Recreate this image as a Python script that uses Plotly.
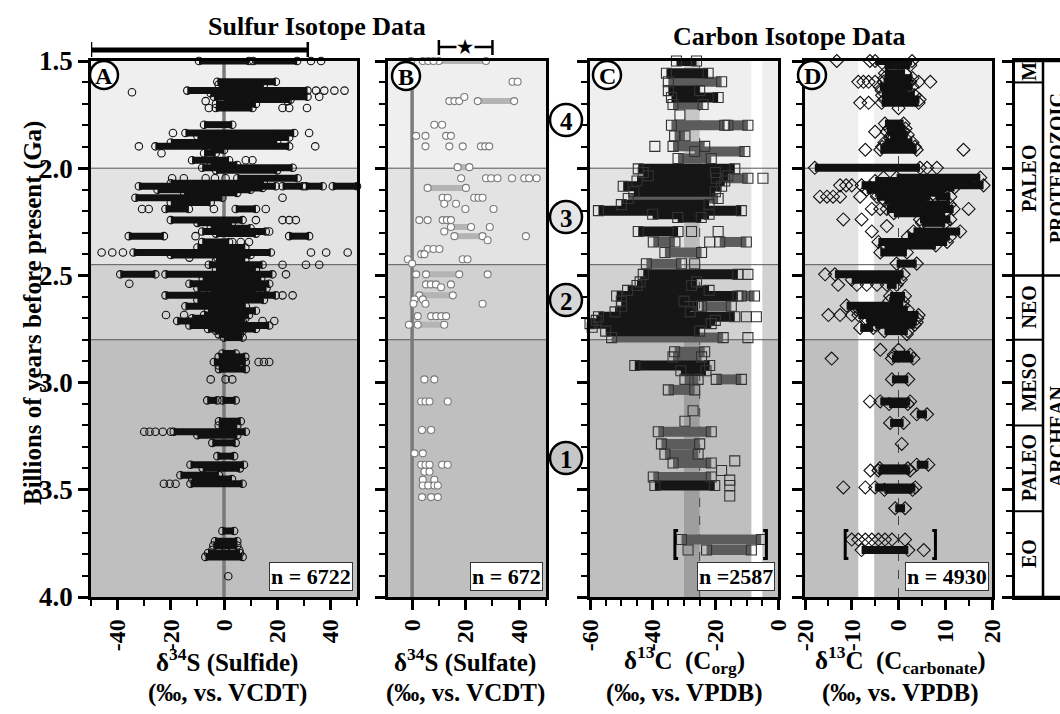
import plotly.graph_objects as go

W, H = 1060, 714
FONT = "Liberation Serif, Times New Roman, serif"

# ---------------- DATA (age in Ga, isotope value in permil) ----------------
# Panel A: d34S sulfide. Dense runs (age, low, high) and single points (age, value)
A_runs = [(1.500, -9.4, 9.4), (1.500, 11.0, 27.5), (1.597, -2.5, 19.5), (1.610, -2.0, 15.0),
          (1.638, -13.8, 31.4), (1.650, -5.0, 28.0), (1.667, -3.8, 31.4), (1.680, 0.0, 25.0),
          (1.700, -3.0, 12.0), (1.719, -3.1, 10.7), (1.797, -7.5, 3.1), (1.836, -14.5, 26.4),
          (1.850, -10.0, 20.0), (1.857, -2.5, 24.5), (1.880, -20.0, 20.0), (1.898, -25.8, 24.5),
          (1.915, -5.0, 0.0), (1.930, -7.5, -3.1), (1.963, -12.0, 1.9), (1.985, -5.0, 5.0),
          (1.998, -8.2, 25.8), (2.010, -3.0, 20.0), (2.047, 5.0, 27.7), (2.070, -20.0, 15.0),
          (2.084, -32.0, 19.5), (2.084, 22.0, 29.6), (2.084, 30.8, 37.1), (2.084, 40.9, 50.0),
          (2.092, -0.6, 14.5), (2.100, -25.0, 10.0), (2.115, -15.0, 5.0), (2.138, -33.3, -0.6),
          (2.160, -20.0, -5.0), (2.190, -22.0, -13.2), (2.190, 4.4, 12.0), (2.242, -20.0, 7.0),
          (2.255, -10.0, 3.0), (2.280, -5.0, 10.0), (2.295, -8.2, 15.7), (2.305, -3.0, 12.0),
          (2.317, -35.8, -22.6), (2.317, 24.5, 32.0), (2.344, -8.2, 1.9), (2.370, -10.0, 8.0),
          (2.393, -34.0, 17.6), (2.405, -20.0, 10.0), (2.417, -2.5, 3.0), (2.430, -3.0, 8.0),
          (2.450, -5.7, 14.5), (2.470, -3.0, 12.0), (2.495, -39.0, -25.8), (2.495, -22.0, 18.2),
          (2.515, -8.0, 14.0), (2.539, -13.0, 17.0), (2.560, -10.0, 16.0), (2.575, -5.0, 12.0),
          (2.593, -22.0, 19.5), (2.615, -10.0, 15.0), (2.644, -14.5, 8.2), (2.665, -6.0, 12.0),
          (2.685, -7.5, 9.4), (2.700, -12.0, 8.0), (2.713, -17.6, 7.0), (2.734, -13.0, 17.0),
          (2.750, -6.0, 12.0), (2.758, -3.1, 7.0), (2.775, -2.0, 6.0), (2.790, 0.0, 7.0),
          (2.864, -0.6, 4.4), (2.880, -2.0, 8.0), (2.904, -3.8, 8.2), (2.920, -2.0, 6.0),
          (2.937, -1.9, 8.2), (3.083, -6.3, -2.5), (3.083, -0.6, 4.4), (3.180, -1.9, 6.3),
          (3.200, -2.0, 5.0), (3.229, -18.9, 8.2), (3.245, -10.0, 5.0), (3.281, -4.4, 4.4),
          (3.343, -2.5, 3.8), (3.383, -12.6, 7.5), (3.400, -8.0, 6.0), (3.432, -16.4, -1.9),
          (3.450, -12.0, 3.0), (3.472, -12.6, 7.0), (3.692, -0.6, 3.8), (3.740, -3.4, 5.0),
          (3.760, -4.0, 5.0), (3.795, -6.0, 6.0), (3.813, -7.0, 7.0)]
A_points = [(1.500, 32.7), (1.500, 36.5), (1.646, -34.6), (1.638, 34.6), (1.638, 37.7),
            (1.638, 41.5), (1.638, 45.3), (1.667, 35.8), (1.687, -6.9), (1.687, 23.9),
            (1.719, -5.7), (1.719, 22.0), (1.719, 24.5), (1.719, 31.2), (1.836, -19.2),
            (1.836, 32.0), (1.898, -32.0), (1.898, 34.3), (1.930, -23.5), (1.963, 8.2),
            (1.963, 10.7), (2.047, -19.5), (2.047, -15.1), (2.047, -6.9), (2.047, -3.4),
            (2.047, 0.6), (2.092, 52.0), (2.138, 22.0), (2.190, -30.8), (2.190, -28.3),
            (2.190, -3.8), (2.190, 15.7), (2.242, 12.0), (2.242, 22.0), (2.242, 24.5),
            (2.242, 27.0), (2.295, 17.0), (2.317, -10.7), (2.344, 3.1), (2.344, 6.3),
            (2.344, 9.4), (2.393, -46.0), (2.393, -42.0), (2.393, -38.0), (2.393, 32.7),
            (2.393, 38.4), (2.393, 46.5), (2.417, -13.0), (2.450, 22.0), (2.450, 30.8),
            (2.450, 35.8), (2.495, 23.3), (2.539, -35.6), (2.593, 22.0), (2.593, 25.8),
            (2.685, -21.8), (2.685, -15.0), (2.713, 14.5), (2.713, 18.9), (2.904, 13.0),
            (2.904, 15.0), (2.904, 17.0), (2.985, -5.0), (2.985, 0.6), (2.985, 3.1),
            (3.229, -30.0), (3.229, -28.0), (3.229, -25.8), (3.229, -23.0), (3.229, -20.0),
            (3.472, -22.6), (3.472, -20.4), (3.472, -18.2), (3.781, -4.4), (3.781, -2.0),
            (3.781, 0.6), (3.781, 3.1), (3.781, 5.7), (3.903, 1.6)]

# Panel B: d34S sulfate
B_runs = [(1.500, 10.0, 27.6), (1.687, 24.5, 38.1), (1.995, 17.0, 21.4), (2.092, 5.8, 20.1),
          (2.274, 14.5, 22.0), (2.317, 15.8, 26.3), (2.495, 5.2, 17.6), (2.593, 2.7, 15.2),
          (2.730, 2.1, 12.0), (3.221, 3.7, 7.1), (3.534, 3.7, 7.1)]
B_points = [(1.500, -0.4), (1.500, 4.0), (1.500, 6.0), (1.500, 8.0), (1.597, 37.5), (1.597, 39.4),
            (1.687, 13.9), (1.687, 15.8), (1.687, 17.6), (1.668, 19.5), (1.797, 8.3), (1.797, 11.2),
            (1.849, 1.5), (1.849, 5.0), (1.849, 12.7), (1.849, 14.5), (1.898, 5.0), (1.898, 13.9),
            (1.898, 18.9), (1.898, 25.7), (1.898, 27.3), (1.898, 28.8), (2.047, 18.3), (2.047, 27.6),
            (2.047, 29.5), (2.047, 31.9), (2.047, 37.3), (2.047, 41.9), (2.047, 43.7), (2.047, 46.5),
            (2.138, 11.4), (2.138, 13.3), (2.138, 23.2), (2.138, 24.8), (2.138, 26.3), (2.166, 12.0),
            (2.166, 16.4), (2.190, 19.9), (2.190, 30.4), (2.242, 2.7), (2.242, 5.8), (2.242, 11.4),
            (2.242, 13.0), (2.242, 14.5), (2.274, 29.0), (2.295, 12.0), (2.317, 42.5), (2.336, 28.2),
            (2.377, 5.8), (2.377, 8.0), (2.377, 10.2), (2.401, 3.4), (2.401, 4.6), (2.425, -1.6),
            (2.425, 18.9), (2.425, 20.7), (2.445, 0.0), (2.495, 1.5), (2.495, 28.2), (2.542, 5.2),
            (2.542, 7.0), (2.542, 8.9), (2.542, 14.5), (2.555, 10.8), (2.612, 0.9), (2.612, 4.0),
            (2.632, 0.5), (2.632, 5.0), (2.632, 26.3), (2.690, 2.1), (2.690, 7.1), (2.690, 9.0),
            (2.690, 10.9), (2.690, 12.7), (2.730, -1.2), (2.985, 4.6), (2.985, 8.3), (3.088, 3.4),
            (3.088, 5.0), (3.088, 6.5), (3.088, 13.3), (3.330, 0.9), (3.330, 4.0), (3.383, 3.4),
            (3.383, 5.0), (3.383, 6.5), (3.383, 11.2), (3.383, 13.3), (3.416, 4.6), (3.416, 6.5),
            (3.453, 4.0), (3.453, 8.3), (3.480, 4.0), (3.480, 6.0), (3.480, 8.3), (3.480, 9.6),
            (3.534, 9.6)]

# Panel C: d13C organic carbon (dense runs, lighter runs, points)
C_runs_dense = [(1.500, -32.4, -26.0), (1.557, -35.6, -22.3), (1.638, -35.0, -25.0),
                (1.670, -34.0, -19.1), (2.003, -44.6, -13.8), (2.020, -43.0, -20.0),
                (2.036, -41.4, -16.0), (2.060, -45.0, -17.0), (2.084, -49.4, -18.0),
                (2.110, -46.0, -20.0), (2.170, -50.0, -22.0), (2.198, -57.3, -11.7),
                (2.215, -40.0, -22.0), (2.230, -32.0, -24.5), (2.295, -44.6, -31.9),
                (2.495, -43.0, -12.8), (2.530, -44.0, -26.0), (2.547, -45.0, -27.6),
                (2.570, -48.0, -22.0), (2.596, -51.5, -12.8), (2.620, -50.0, -30.0),
                (2.644, -49.9, -25.5), (2.670, -52.0, -28.0), (2.693, -57.3, -13.8),
                (2.710, -58.0, -20.0), (2.725, -60.0, -21.3), (2.760, -55.0, -25.0),
                (2.920, -45.7, -21.8), (2.945, -31.0, -23.0), (3.480, -39.3, -20.2)]
C_runs_light = [(1.597, -35.0, -18.0), (1.703, -33.5, -23.9), (1.800, -34.0, -17.0),
                (1.800, -16.0, -9.6), (1.849, -33.0, -29.7), (1.898, -33.5, -23.4),
                (1.922, -26.6, -10.6), (1.955, -31.9, -21.3), (2.047, -19.7, -9.6),
                (2.141, -47.8, -19.1), (2.344, -39.8, -32.9), (2.344, -18.6, -10.1),
                (2.393, -36.1, -24.4), (2.446, -42.0, -30.8), (2.644, -24.4, -14.9),
                (2.596, -11.7, -7.5), (2.790, -53.1, -17.5), (2.856, -33.0, -23.4),
                (2.880, -33.5, -24.4), (2.985, -29.7, -25.5), (2.985, -19.7, -11.7),
                (3.034, -35.0, -26.6), (3.229, -38.2, -21.3), (3.286, -37.2, -25.0),
                (3.334, -36.1, -25.5), (3.375, -33.5, -21.3), (3.440, -39.8, -21.3),
                (3.732, -30.8, -5.3), (3.781, -22.8, -8.5)]
C_points = [(1.752, -31.3), (1.898, -39.3), (2.047, -4.8), (2.295, -27.6), (2.295, -19.1),
            (2.344, -21.8), (2.446, -26.6), (2.495, -9.6), (2.693, -10.1), (2.693, -6.9),
            (2.742, -59.3), (2.790, -9.6), (3.131, -27.1), (3.180, -29.7), (3.365, -13.8),
            (3.410, -18.0), (3.455, -15.4), (3.480, -15.4), (3.529, -15.4), (3.781, -28.7)]

# Panel D: d13C carbonate
D_runs = [(1.500, -5.0, 2.9), (1.520, -3.0, 2.5), (1.557, -2.9, 1.4), (1.580, -3.0, 3.0),
          (1.597, -3.2, 2.5), (1.620, -4.0, 3.0), (1.638, -3.6, 2.1), (1.660, -3.5, 3.5),
          (1.680, -3.0, 4.5), (1.695, -3.6, 4.3), (1.792, -2.9, 1.1), (1.815, -2.0, 1.5),
          (1.830, -2.5, 1.1), (1.845, -1.5, 2.0), (1.860, -1.8, 1.4), (1.880, -3.0, 3.0),
          (1.900, -3.5, 3.5), (1.914, -3.9, 3.9), (1.998, -17.9, 4.6), (2.044, -0.4, 17.5),
          (2.060, -5.0, 16.0), (2.080, -7.9, 18.2), (2.090, -6.0, 12.0), (2.100, -6.8, 10.0),
          (2.115, -5.0, 9.0), (2.133, -4.6, 6.8), (2.133, 7.9, 11.1), (2.150, -3.0, 6.0),
          (2.170, -2.0, 11.0), (2.190, -2.5, 11.8), (2.210, -1.0, 10.0), (2.239, 4.6, 11.1),
          (2.255, 5.0, 10.0), (2.295, 3.2, 13.2), (2.320, 2.0, 11.0), (2.344, -4.3, 10.4),
          (2.360, -3.0, 8.0), (2.393, -3.9, 1.8), (2.445, -0.4, 3.9), (2.495, -13.6, 1.1),
          (2.520, -10.0, 0.5), (2.544, -2.5, -0.4), (2.596, -1.8, 1.4), (2.620, -2.0, 1.0),
          (2.641, -11.1, 1.0), (2.660, -9.0, 2.0), (2.685, -8.6, 4.3), (2.700, -7.0, 4.0),
          (2.718, -6.8, 3.9), (2.730, -5.0, 3.5), (2.745, -8.2, -5.4), (2.760, -3.0, 2.0),
          (2.870, -1.0, 2.5), (2.888, -1.4, 3.2), (2.985, -1.4, 2.1), (3.088, -3.9, 2.5),
          (3.100, -2.0, 2.0), (3.148, 3.9, 6.1), (3.188, -1.8, 1.1), (3.383, 3.9, 6.4),
          (3.400, -4.0, 2.0), (3.410, -4.3, 2.5), (3.489, -5.0, 3.6), (3.500, -3.0, 3.0),
          (3.586, -0.7, 1.4), (3.781, -7.9, 2.1)]
D_points = [(1.500, -13.2), (1.500, -6.1), (1.597, -18.9), (1.597, -8.6), (1.597, -7.5),
            (1.597, -6.4), (1.597, -5.0), (1.597, 4.3), (1.597, 6.8), (1.695, -8.2), (1.695, -6.4),
            (1.720, 0.0), (1.830, -5.0), (1.914, -7.1), (1.914, 13.9), (1.998, 6.1), (1.998, 8.2),
            (2.044, -3.2), (2.080, -12.5), (2.080, -11.2), (2.080, -10.0), (2.133, -16.8),
            (2.133, -15.3), (2.133, -14.0), (2.133, -12.5), (2.133, -8.2), (2.190, -5.7),
            (2.190, -3.9), (2.190, 15.0), (2.239, -11.8), (2.239, -7.9), (2.270, -2.5),
            (2.295, -5.7), (2.495, -15.7), (2.544, -12.9), (2.544, -8.9), (2.544, -6.8),
            (2.544, -4.6), (2.685, -15.0), (2.685, -12.5), (2.685, -10.0), (2.774, 1.8),
            (2.847, -3.9), (2.847, 0.0), (2.888, -14.3), (3.088, -6.1), (3.286, 0.7),
            (3.410, -6.0), (3.489, -11.8), (3.489, -7.1), (3.732, -10.0), (3.732, -8.6),
            (3.732, -7.1), (3.732, -5.7), (3.732, -4.3), (3.732, -2.9), (3.732, -1.4),
            (3.732, 1.4), (3.781, 5.4)]

sample_counts = ["6722", "672", "2587", "4930"]
zone_bounds = [1.5, 2.0, 2.45, 2.8, 4.0]
sulfide_range = [-50, 31.5]
sulfate_range = [10, 30, 20]          # low, high, star
corg_band = [-30, -25]
white_band_C = [-8.5, -5.0]
white_band_D = [-8.6, -5.2]
bracket_ages = [3.69, 3.82]
bracket_C = [-32.9, -3.7]
bracket_D = [-11.4, 7.9]
subera_bounds = [1.5, 1.6, 2.5, 2.8, 3.2, 3.6, 4.0]
subera_names = ["M", "PALEO", "NEO", "MESO", "PALEO", "EO"]
era_names = ["PROTEROZOIC", "ARCHEAN"]
era_mid = [2.0, 3.25]
circle_nums = ["4", "3", "2", "1"]

# ---------------- FIGURE ----------------
fig = go.Figure()
ydom = [1 - 597 / H, 1 - 61 / H]
panels = [("x", "y", [91, 357], [-50, 50]), ("x2", "y2", [388, 546], [-9, 50]),
          ("x3", "y3", [590, 778], [-60, 0]), ("x4", "y4", [805, 992], [-20, 20])]


def runs_xy(runs):
    xs, ys = [], []
    for a, lo, hi in runs:
        xs += [lo, hi, None]
        ys += [a, a, None]
    return xs, ys


def ends_xy(runs, pts):
    xs = [r[1] for r in runs] + [r[2] for r in runs] + [p[1] for p in pts]
    ys = [r[0] for r in runs] + [r[0] for r in runs] + [p[0] for p in pts]
    return xs, ys


def add_runs(runs, xa, ya, color, width):
    xs, ys = runs_xy(runs)
    fig.add_trace(go.Scatter(x=xs, y=ys, xaxis=xa, yaxis=ya, mode="lines",
                             line=dict(color=color, width=width), hoverinfo="skip",
                             showlegend=False))


def add_marks(runs, pts, xa, ya, symbol, size, fill, edge):
    xs, ys = ends_xy(runs, pts)
    fig.add_trace(go.Scatter(x=xs, y=ys, xaxis=xa, yaxis=ya, mode="markers",
                             marker=dict(symbol=symbol, size=size, color=fill,
                                         line=dict(color=edge, width=1.1)),
                             cliponaxis=False, showlegend=False))


add_runs(A_runs, "x", "y", "#111", 7)
add_marks(A_runs, A_points, "x", "y", "circle-open", 7.5, "#111", "#111")
add_runs(B_runs, "x2", "y2", "#b4b4b4", 6)
add_marks(B_runs, B_points, "x2", "y2", "circle", 7, "white", "#7a7a7a")
add_runs(C_runs_light, "x3", "y3", "#5c5c5c", 10)
add_runs(C_runs_dense, "x3", "y3", "#161616", 10)
add_marks(C_runs_dense + C_runs_light, C_points, "x3", "y3", "square-open", 10, "#333", "#333")
add_runs(D_runs, "x4", "y4", "#111", 8)
add_marks(D_runs, D_points, "x4", "y4", "diamond-open", 10, "#111", "#111")

tick_font = dict(family=FONT, size=24, color="black", weight="bold")
xticks = [([-40, -20, 0, 20, 40], 10), ([0, 20, 40], 10), ([-60, -40, -20, 0], 5),
          ([-20, -10, 0, 10, 20], 5)]
layout = dict(width=W, height=H, margin=dict(l=0, r=0, t=0, b=0, pad=0, autoexpand=False),
              paper_bgcolor="white", plot_bgcolor="rgba(0,0,0,0)",
              font=dict(family=FONT, size=22, color="black", weight="bold"), showlegend=False)

yvals = [1.5, 2.0, 2.5, 3.0, 3.5, 4.0]
for i, (xa, ya, px, rng) in enumerate(panels):
    xkey = "xaxis" if i == 0 else f"xaxis{i + 1}"
    ykey = "yaxis" if i == 0 else f"yaxis{i + 1}"
    tv, mdt = xticks[i]
    layout[xkey] = dict(domain=[px[0] / W, px[1] / W], range=rng, anchor=ya, automargin=False,
                        showline=True, mirror=True, linewidth=2.5, linecolor="black",
                        ticks="outside", ticklen=10, tickwidth=2.5, tickcolor="black",
                        tickmode="array", tickvals=tv, ticktext=[str(v) for v in tv],
                        tickangle=-90, tickfont=tick_font, showgrid=False, zeroline=False,
                        minor=dict(ticks="outside", tick0=0, dtick=mdt, ticklen=6,
                                   tickwidth=2, tickcolor="black"))
    layout[ykey] = dict(domain=ydom, range=[4.0, 1.5], anchor=xa, automargin=False,
                        showline=True, mirror=True, linewidth=2.5, linecolor="black",
                        ticks="outside", ticklen=10, tickwidth=2.5, tickcolor="black",
                        tickmode="array", tickvals=yvals, ticktext=[f"{v:.1f}" for v in yvals],
                        showticklabels=(i == 0), tickfont=dict(family=FONT, size=27, color="black", weight="bold"),
                        showgrid=False, zeroline=False,
                        minor=dict(ticks="outside", tick0=1.5, dtick=0.1, ticklen=6,
                                   tickwidth=2, tickcolor="black"))

# era column axes
layout["xaxis5"] = dict(domain=[1015 / W, 1.0], range=[0, 1], anchor="y5", automargin=False,
                        showline=True, mirror=True, linewidth=2.5, linecolor="black",
                        showticklabels=False, ticks="", showgrid=False, zeroline=False)
layout["yaxis5"] = dict(domain=ydom, range=[4.0, 1.5], anchor="x5", showline=True, automargin=False,
                        linewidth=2.5, linecolor="black", ticks="outside", ticklen=10,
                        tickwidth=2.5, tickcolor="black", tickvals=yvals, showticklabels=False,
                        showgrid=False, zeroline=False,
                        minor=dict(ticks="outside", tick0=1.5, dtick=0.1, ticklen=6,
                                   tickwidth=2, tickcolor="black"))

shapes = []
zone_colors = ["#efefef", "#e3e3e3", "#d1d1d1", "#bfbfbf"]
for i, (xa, ya, px, rng) in enumerate(panels):
    for j in range(4):
        shapes.append(dict(type="rect", xref=f"{xa} domain", yref=ya, x0=0, x1=1,
                           y0=zone_bounds[j], y1=zone_bounds[j + 1], fillcolor=zone_colors[j],
                           line=dict(width=0), layer="below"))
    if i == 2:
        shapes.append(dict(type="rect", xref=xa, yref=f"{ya} domain", x0=corg_band[0], x1=corg_band[1],
                           y0=0, y1=1, fillcolor="rgba(0,0,0,0.17)", line=dict(width=0), layer="below"))
        shapes.append(dict(type="rect", xref=xa, yref=f"{ya} domain", x0=white_band_C[0], x1=white_band_C[1],
                           y0=0, y1=1, fillcolor="white", line=dict(width=0), layer="below"))
        shapes.append(dict(type="line", xref=xa, yref=f"{ya} domain", x0=corg_band[1], x1=corg_band[1],
                           y0=0, y1=1, line=dict(color="#444", width=1, dash="dash"), layer="below"))
    if i == 3:
        shapes.append(dict(type="rect", xref=xa, yref=f"{ya} domain", x0=white_band_D[0], x1=white_band_D[1],
                           y0=0, y1=1, fillcolor="white", line=dict(width=0), layer="below"))
        shapes.append(dict(type="line", xref=xa, yref=f"{ya} domain", x0=0, x1=0,
                           y0=0, y1=1, line=dict(color="#444", width=1, dash="dash"), layer="below"))
    for b in zone_bounds[1:4]:
        shapes.append(dict(type="line", xref=f"{xa} domain", yref=ya, x0=0, x1=1, y0=b, y1=b,
                           line=dict(color="#555", width=1), layer="below"))
    if i in (0, 1):
        shapes.append(dict(type="line", xref=xa, yref=f"{ya} domain", x0=0, x1=0, y0=0, y1=1,
                           line=dict(color="#7a7a7a", width=3.5), layer="below"))

# brackets around the oldest samples in C and D
for xa, ya, (bl, br) in (("x3", "y3", bracket_C), ("x4", "y4", bracket_D)):
    a0, a1 = bracket_ages
    w = (br - bl) * 0.035
    shapes.append(dict(type="path", xref=xa, yref=ya, line=dict(color="black", width=3),
                       path=f"M {bl + w},{a0} L {bl},{a0} L {bl},{a1} L {bl + w},{a1}"))
    shapes.append(dict(type="path", xref=xa, yref=ya, line=dict(color="black", width=3),
                       path=f"M {br - w},{a0} L {br},{a0} L {br},{a1} L {br - w},{a1}"))

# range bar above A and bracket with star above B
ybar = 1 - 50 / H
shapes.append(dict(type="line", xref="x", yref="paper", x0=sulfide_range[0], x1=sulfide_range[1],
                   y0=ybar, y1=ybar, line=dict(color="black", width=5)))
for xv in sulfide_range:
    shapes.append(dict(type="line", xref="x", yref="paper", x0=xv, x1=xv, y0=1 - 42 / H, y1=1 - 57 / H,
                       line=dict(color="black", width=2.5)))
yb2 = 1 - 47 / H
shapes.append(dict(type="line", xref="x2", yref="paper", x0=sulfate_range[0], x1=sulfate_range[1],
                   y0=yb2, y1=yb2, line=dict(color="black", width=2.5)))
for xv in sulfate_range[:2]:
    shapes.append(dict(type="line", xref="x2", yref="paper", x0=xv, x1=xv, y0=1 - 40 / H, y1=1 - 55 / H,
                       line=dict(color="black", width=2.5)))

# era column lines
div = (1043 - 1015) / 45
for k, b in enumerate(subera_bounds):
    full = b in (1.5, 2.5, 4.0)
    shapes.append(dict(type="line", xref="x5", yref="y5", x0=0, x1=(1 if full else div), y0=b, y1=b,
                       line=dict(color="black", width=2.5 if full else 2)))
shapes.append(dict(type="line", xref="x5", yref="y5", x0=div, x1=div, y0=1.5, y1=4.0,
                   line=dict(color="black", width=2.5)))

# circled panel letters
letter_pos = [(104, 75), (406, 76), (607, 75), (812, 75)]
for cx, cy in letter_pos:
    shapes.append(dict(type="circle", xref="paper", yref="paper", xsizemode="pixel", ysizemode="pixel",
                       xanchor=cx / W, yanchor=1 - cy / H, x0=-14, x1=14, y0=-14, y1=14,
                       fillcolor="white", line=dict(color="black", width=2.5)))
# circled stage numbers
num_pos = [120, 217, 300, 458]
num_fill = ["white", "#e6e6e6", "#d6d6d6", "#c6c6c6"]
for cy, fc in zip(num_pos, num_fill):
    shapes.append(dict(type="circle", xref="paper", yref="paper", xsizemode="pixel", ysizemode="pixel",
                       xanchor=566 / W, yanchor=1 - cy / H, x0=-16, x1=16, y0=-16, y1=16,
                       fillcolor=fc, line=dict(color="black", width=2.5)))

layout["shapes"] = shapes

ann = []


def add_text(text, x, y, size, xref="paper", yref="paper", **kw):
    d = dict(text=text, x=x, y=y, xref=xref, yref=yref, showarrow=False,
             xanchor=kw.pop("xanchor", "center"), yanchor=kw.pop("yanchor", "middle"),
             font=dict(family=FONT, size=size, color="black", weight="bold"))
    d.update(kw)
    ann.append(d)


for (cx, cy), t in zip(letter_pos, ["A", "B", "C", "D"]):
    add_text(t, cx / W, 1 - (cy + 1) / H, 24)
for cy, t in zip(num_pos, circle_nums):
    add_text(t, 566 / W, 1 - (cy + 1) / H, 25)
add_text("★", sulfate_range[2], 1 - 47 / H, 18, xref="x2", bgcolor="white", borderpad=0)
# n labels
n_right = [353, 543, 775, 989]
for nr, n in zip(n_right, sample_counts):
    sp = " = " if n != "2587" else " ="
    add_text(f"n{sp}{n}", nr / W, 1 - 591 / H, 22, xanchor="right", yanchor="bottom",
             bgcolor="white", bordercolor="#333", borderwidth=1, borderpad=1)
# titles
add_text("Sulfur Isotope Data", 317 / W, 1 - 27 / H, 26)
add_text("Carbon Isotope Data", 790 / W, 1 - 36 / H, 26)
add_text("Billions of years before present (Ga)", 33 / W, 1 - 313 / H, 25, textangle=-90)
# x labels
xl = [(227, "δ<sup>34</sup>S (Sulfide)", "(‰, vs. VCDT)"),
      (465, "δ<sup>34</sup>S (Sulfate)", "(‰, vs. VCDT)"),
      (684, "δ<sup>13</sup>C  (C<sub>org</sub>)", "(‰, vs. VPDB)"),
      (900, "δ<sup>13</sup>C  (C<sub>carbonate</sub>)", "(‰, vs. VPDB)")]
for cx, l1, l2 in xl:
    add_text(l1, cx / W, 1 - 660 / H, 25)
    add_text(l2, cx / W, 1 - 693 / H, 25)
# era column labels
for k, name in enumerate(subera_names):
    mid = (subera_bounds[k] + subera_bounds[k + 1]) / 2
    add_text(name, 1029 / W, mid, 20, yref="y5", textangle=-90)
for name, mid in zip(era_names, era_mid):
    add_text(name, 1057 / W, mid, 20, yref="y5", textangle=-90)

layout["annotations"] = ann
fig.update_layout(**layout)
fig.write_html("out.html")
